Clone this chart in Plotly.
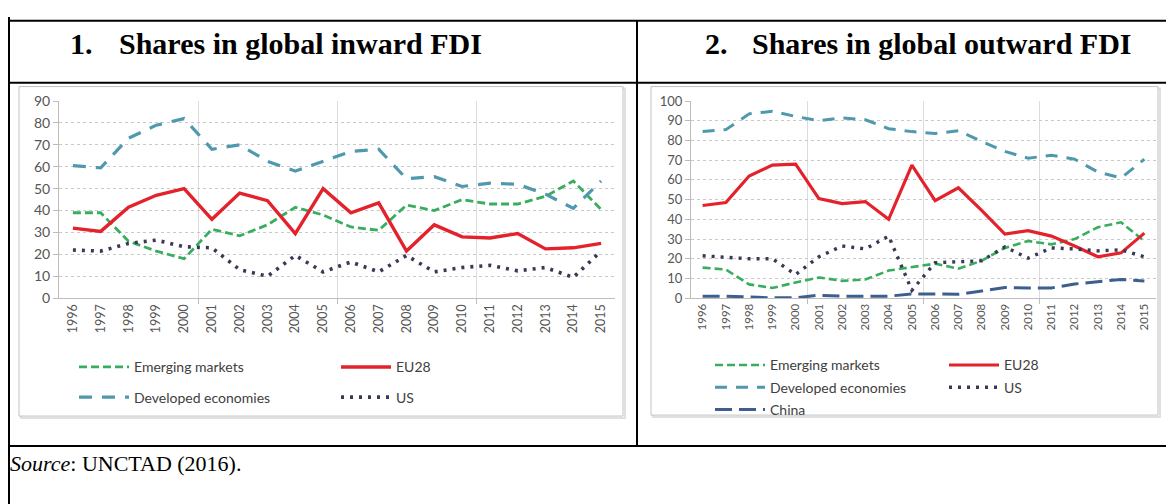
import plotly.graph_objects as go

W, H = 1174, 504
OFF = 8  # page offset of the figure inside the html body

years = list(range(1996, 2016))
year_labels = [str(y) for y in years]

# Panel 1: shares in global inward FDI (%)
in_emerging = [39, 39, 26, 21.5, 18, 31.5, 28.5, 33.5, 41.5, 38, 32.5, 31, 42.5, 40, 45, 43, 43, 46.5, 53.5, 40.5]
in_eu28 = [32, 30.5, 41.5, 47, 50, 36, 48, 44.5, 29.5, 50, 39, 43.5, 21.5, 33.5, 28, 27.5, 29.5, 22.5, 23, 25]
in_developed = [60.5, 59.5, 73, 79, 82, 68, 70, 62.5, 58, 62.5, 67, 68, 54.5, 55.5, 51, 52.5, 52, 47.5, 41, 53.5]
in_us = [22, 21.5, 25, 26.5, 23.5, 23, 13, 10, 19.5, 12, 16.5, 12, 19.5, 12, 14, 15, 12.5, 14, 9.5, 21.5]

# Panel 2: shares in global outward FDI (%)
out_emerging = [15.5, 14.5, 7, 5.2, 8, 10.5, 8.8, 9.5, 14, 15.8, 17.5, 15, 19, 25.5, 29, 27.3, 30, 36, 38.5, 29]
out_eu28 = [47, 48.5, 62, 67.5, 68, 50.5, 48, 49, 40, 67.5, 49.5, 56, 44.5, 32.5, 34.3, 31.5, 26.5, 21, 23, 33]
out_developed = [84.5, 85.5, 93.5, 94.8, 92.2, 90, 91.5, 90.5, 86, 84.5, 83.5, 85, 79.5, 74.5, 71, 72.5, 70.5, 64, 61, 70.5]
out_us = [21.5, 20.8, 20, 20, 12, 21, 26.5, 25, 31.5, 4, 18, 18.5, 19, 26, 20.3, 25.5, 25, 24, 24.5, 21]
out_china = [1, 1, 0.6, 0.2, 0.2, 1.5, 1, 1, 1, 2.2, 2, 2, 3.6, 5.4, 5.2, 5.2, 7.2, 8.5, 9.5, 8.7]

GREEN = "#38ad5e"
RED = "#e3222b"
TEAL = "#4f99ae"
NAVY = "#3b3856"
BLUE = "#3d5f8f"


def px_x(p):
    return (p - OFF) / W


def px_y(p):
    return 1 - (p - OFF) / H


fig = go.Figure()

series1 = [
    ("Emerging markets", in_emerging, dict(color=GREEN, width=2.8, dash="8px,4px"), "legend"),
    ("Developed economies", in_developed, dict(color=TEAL, width=3.2, dash="13px,10px"), "legend"),
    ("EU28", in_eu28, dict(color=RED, width=3.4, dash="solid"), "legend2"),
    ("US", in_us, dict(color=NAVY, width=3.6, dash="3px,6px"), "legend2"),
]
series2 = [
    ("Emerging markets", out_emerging, dict(color=GREEN, width=2.6, dash="8px,4px"), "legend3"),
    ("Developed economies", out_developed, dict(color=TEAL, width=3, dash="12px,9px"), "legend3"),
    ("China", out_china, dict(color=BLUE, width=3, dash="17px,7px"), "legend3"),
    ("EU28", out_eu28, dict(color=RED, width=3.2, dash="solid"), "legend4"),
    ("US", out_us, dict(color=NAVY, width=3.4, dash="3px,6px"), "legend4"),
]

for i, (name, vals, line, lg) in enumerate(series1):
    fig.add_trace(go.Scatter(x=years, y=vals, name=name, mode="lines", line=line,
                             xaxis="x", yaxis="y", legend=lg, legendgroup="a%d" % i))
for i, (name, vals, line, lg) in enumerate(series2):
    fig.add_trace(go.Scatter(x=years, y=vals, name=name, mode="lines", line=line,
                             xaxis="x2", yaxis="y2", legend=lg, legendgroup="b%d" % i))

FAM = "Lato, Open Sans, sans-serif"
GRID = "#c9c9c9"
AXL = "#bdbdbd"


def xaxis_cfg(x0, x1, fs):
    return dict(domain=[px_x(x0), px_x(x1)], range=[1995.5, 2015.5], tickmode="array",
                tickvals=years, ticktext=year_labels, tickangle=-90,
                tickfont=dict(family=FAM, size=fs, color="#555555"),
                showgrid=False, showline=True, linecolor=AXL, linewidth=1, ticks="",
                zeroline=False, fixedrange=True,
                minor=dict(tickmode="array", tickvals=[2000.5, 2005.5, 2010.5], showgrid=True,
                           gridcolor="#dcdcdc", gridwidth=1, ticks="outside", ticklen=5,
                           tickcolor=AXL))


def yaxis_cfg(y0, y1, top, anchor, fs):
    return dict(domain=[px_y(y1), px_y(y0)], range=[0, top], dtick=10,
                tickfont=dict(family=FAM, size=fs, color="#555555"),
                showgrid=True, gridcolor=GRID, griddash="dot", gridwidth=1,
                showline=True, linecolor=AXL, linewidth=1, ticks="outside", ticklen=5,
                tickcolor=AXL, zeroline=False, anchor=anchor, fixedrange=True)


LEGFONT = dict(family=FAM, size=14, color="#404040")


def legend_cfg(x, y, gap):
    return dict(x=px_x(x), y=px_y(y), xanchor="left", yanchor="top", orientation="v",
                font=LEGFONT, bgcolor="rgba(0,0,0,0)", tracegroupgap=gap, itemwidth=50,
                borderwidth=0)


shapes = []
# chart frames (with faint shadow)
for (x0, y0, x1, y1) in [(19, 80, 623, 421), (651, 80, 1158, 420)]:
    shapes.append(dict(type="rect", xref="paper", yref="paper", x0=px_x(x0 + 2), x1=px_x(x1 + 2),
                       y0=px_y(y1 + 2), y1=px_y(y0 + 2), line=dict(color="#e0e0e0", width=2),
                       layer="below"))
    shapes.append(dict(type="rect", xref="paper", yref="paper", x0=px_x(x0), x1=px_x(x1),
                       y0=px_y(y1), y1=px_y(y0), line=dict(color="#c2c2c2", width=1),
                       fillcolor="white", layer="below"))


def hline(y, x0, x1):
    shapes.append(dict(type="line", xref="paper", yref="paper", x0=px_x(x0), x1=px_x(x1),
                       y0=px_y(y), y1=px_y(y), line=dict(color="black", width=2)))


def vline(x, y0, y1):
    shapes.append(dict(type="line", xref="paper", yref="paper", x0=px_x(x), x1=px_x(x),
                       y0=px_y(y0), y1=px_y(y1), line=dict(color="black", width=2)))


hline(12, 8, W + OFF)
hline(76, 8, W + OFF)
hline(452, 8, W + OFF)
vline(9, 8, H + OFF)
vline(637, 12, 452)

TFONT = dict(family="Liberation Serif, Times New Roman, serif", size=30, color="black")


def ann(text, x, y, font):
    return dict(text=text, x=px_x(x), y=px_y(y), xref="paper", yref="paper",
                xanchor="left", yanchor="middle", showarrow=False, font=font)


annotations = [
    ann("<b>1.</b>", 68, 35, TFONT),
    ann("<b>Shares in global inward FDI</b>", 117, 35, TFONT),
    ann("<b>2.</b>", 703, 35, TFONT),
    ann("<b>Shares in global outward FDI</b>", 750, 35, TFONT),
    ann("<i>Source</i>: UNCTAD (2016).", 8, 470,
        dict(family="Liberation Serif, Times New Roman, serif", size=22, color="black")),
]

fig.update_layout(
    width=W, height=H, margin=dict(l=0, r=0, t=0, b=0),
    paper_bgcolor="white", plot_bgcolor="white",
    xaxis=dict(xaxis_cfg(59, 615, 12.5), anchor="y"),
    yaxis=yaxis_cfg(95, 299, 90, "x", 14),
    xaxis2=dict(xaxis_cfg(691, 1156, 11.5), anchor="y2"),
    yaxis2=yaxis_cfg(95, 299, 100, "x2", 13),
    legend=legend_cfg(74, 354, 9),
    legend2=legend_cfg(336, 354, 9),
    legend3=legend_cfg(710, 352, 1),
    legend4=legend_cfg(944, 352, 1),
    shapes=shapes, annotations=annotations, showlegend=True,
)

fig.write_html("out.html")
